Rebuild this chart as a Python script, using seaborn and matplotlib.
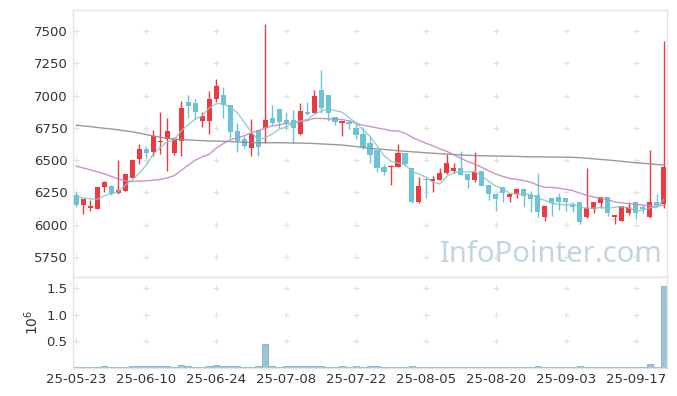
import numpy as np
import pandas as pd
import matplotlib
matplotlib.use("Agg")
import matplotlib.pyplot as plt
import seaborn as sns

# ---------------- data ----------------
tick_labels = ["25-05-23", "25-06-10", "25-06-24", "25-07-08", "25-07-22",
               "25-08-05", "25-08-20", "25-09-03", "25-09-17"]
tick_index = [0, 10, 20, 30, 40, 50, 60, 70, 80]

open_ = [6227, 6150, 6132, 6124, 6291, 6302, 6245, 6260, 6364, 6510,
         6588, 6567, 6639, 6665, 6553, 6650, 6952, 6944, 6805, 6805,
         6971, 7004, 6927, 6725, 6661, 6596, 6733, 6751, 6829, 6896,
         6811, 6811, 6700, 6865, 6862, 7043, 7004, 6831, 6790, 6797,
         6751, 6700, 6635, 6578, 6449, 6444, 6449, 6553, 6436, 6178,
         6353, 6335, 6346, 6398, 6418, 6436, 6392, 6346, 6416, 6307,
         6235, 6294, 6212, 6235, 6274, 6230, 6230, 6062, 6204, 6212,
         6204, 6142, 6173, 6062, 6121, 6165, 6212, 6062, 6031, 6088,
         6173, 6128, 6062, 6173, 6157]
high = [6253, 6200, 6193, 6294, 6336, 6310, 6503, 6392, 6506, 6626,
        6606, 6735, 6871, 6825, 6679, 6960, 7004, 6975, 6873, 7035,
        7130, 7065, 6927, 6785, 6690, 6815, 6733, 7552, 6926, 6896,
        6870, 6885, 6940, 6950, 7045, 7200, 7004, 6831, 6805, 6810,
        6790, 6760, 6690, 6578, 6470, 6462, 6626, 6553, 6436, 6370,
        6372, 6379, 6440, 6550, 6475, 6570, 6392, 6560, 6416, 6307,
        6235, 6294, 6235, 6281, 6274, 6261, 6400, 6144, 6204, 6243,
        6204, 6178, 6173, 6438, 6173, 6212, 6212, 6075, 6144, 6178,
        6173, 6152, 6577, 6238, 7423]
low = [6137, 6085, 6106, 6124, 6253, 6233, 6235, 6258, 6359, 6472,
       6518, 6536, 6549, 6415, 6540, 6530, 6824, 6820, 6760, 6700,
       6950, 6825, 6670, 6560, 6595, 6530, 6530, 6630, 6775, 6750,
       6740, 6630, 6694, 6850, 6862, 6862, 6800, 6770, 6690, 6740,
       6660, 6590, 6480, 6410, 6384, 6305, 6444, 6454, 6165, 6165,
       6204, 6250, 6346, 6392, 6397, 6384, 6283, 6333, 6302, 6191,
       6109, 6173, 6173, 6204, 6140, 6100, 6060, 6031, 6070, 6114,
       6109, 6100, 6005, 6049, 6088, 6126, 6067, 6005, 6031, 6075,
       6044, 6088, 6049, 6142, 6132]
close = [6150, 6196, 6142, 6294, 6333, 6240, 6266, 6389, 6503, 6588,
         6554, 6688, 6652, 6729, 6660, 6906, 6921, 6875, 6842, 6973,
         7076, 6927, 6720, 6648, 6609, 6702, 6599, 6811, 6790, 6797,
         6785, 6751, 6880, 6860, 6997, 6901, 6862, 6797, 6803, 6783,
         6694, 6604, 6540, 6436, 6410, 6457, 6553, 6470, 6178, 6299,
         6343, 6356, 6401, 6479, 6436, 6384, 6346, 6410, 6302, 6235,
         6199, 6243, 6235, 6276, 6224, 6199, 6100, 6144, 6165, 6178,
         6178, 6137, 6023, 6126, 6173, 6212, 6093, 6075, 6144, 6134,
         6088, 6124, 6173, 6152, 6444]
volume = [3000, 3000, 3000, 3000, 25000, 3000, 3000, 3000, 25000, 25000,
          25000, 25000, 25000, 35000, 3000, 40000, 25000, 3000, 3000, 25000,
          40000, 25000, 25000, 25000, 3000, 3000, 25000, 443000, 25000, 3000,
          25000, 25000, 25000, 25000, 25000, 25000, 3000, 3000, 25000, 3000,
          25000, 3000, 25000, 25000, 3000, 3000, 3000, 3000, 25000, 3000,
          3000, 3000, 3000, 3000, 3000, 3000, 3000, 3000, 3000, 3000,
          3000, 3000, 3000, 3000, 3000, 3000, 25000, 3000, 3000, 3000,
          3000, 3000, 25000, 3000, 3000, 3000, 3000, 3000, 3000, 3000,
          3000, 3000, 63000, 3000, 1545000]
# moving-average values before enough in-window history exists
ma5_head = [6219, 6208, 6200, 6198]
ma20_head = [6454, 6440, 6425, 6410, 6395, 6375, 6355, 6340, 6335, 6337,
             6340, 6345, 6350, 6362, 6380, 6420, 6460, 6500, 6525]
# long moving average (grey)
ma_long = [6771, 6765, 6760, 6753, 6747, 6742, 6735, 6727, 6720, 6710,
           6698, 6688, 6678, 6670, 6664, 6660, 6657, 6654, 6651, 6649,
           6648, 6646, 6644, 6641, 6639, 6637, 6635, 6635, 6635, 6635,
           6634, 6633, 6632, 6631, 6629, 6626, 6623, 6620, 6617, 6611,
           6605, 6598, 6591, 6587, 6583, 6578, 6573, 6569, 6565, 6561,
           6557, 6554, 6550, 6547, 6544, 6540, 6538, 6536, 6534, 6533,
           6532, 6531, 6530, 6529, 6527, 6526, 6526, 6525, 6524, 6523,
           6523, 6522, 6519, 6515, 6510, 6505, 6501, 6496, 6491, 6485,
           6480, 6476, 6471, 6466, 6462]

# ---------------- derived ----------------
n = len(close)
df = pd.DataFrame({"i": np.arange(n), "open": open_, "high": high,
                   "low": low, "close": close, "volume": volume,
                   "ma_long": ma_long})
ma5 = df["close"].rolling(5).mean()
ma5.iloc[:len(ma5_head)] = ma5_head
ma20 = df["close"].rolling(20).mean()
ma20.iloc[:len(ma20_head)] = ma20_head
df["ma5"] = ma5
df["ma20"] = ma20
df["up"] = df["close"] >= df["open"]

RED = "#ec3a40"
BLUE = "#6cc2d8"

sns.set_theme(style="white")
plt.rcParams["font.family"] = ["DejaVu Sans"]

W, H = 677, 396
fig = plt.figure(figsize=(W / 100, H / 100), dpi=100)
fig.patch.set_facecolor("white")

L, R = 73, 667
ax = fig.add_axes([L / W, (H - 277) / H, (R - L) / W, (277 - 10) / H])
axv = fig.add_axes([L / W, (H - 367.5) / H, (R - L) / W, (367.5 - 277) / H])

xlim = (-0.45, 84.45)

# grid "+" marks
yt = [5750, 6000, 6250, 6500, 6750, 7000, 7250, 7500]
gx, gy = np.meshgrid(tick_index, yt)
ax.scatter(gx.ravel(), gy.ravel(), marker="+", s=22, color="#e2e2e2",
           linewidths=0.8, zorder=0)

# candles
colors = np.where(df["up"], RED, BLUE)
ax.vlines(df["i"], df["low"], df["high"], colors=colors, linewidth=1.0, zorder=2)
body_lo = np.minimum(df["open"], df["close"])
body_h = np.maximum(np.abs(df["close"] - df["open"]), 12)
ax.bar(df["i"], body_h, bottom=body_lo, width=0.72, color=colors,
       linewidth=0, zorder=3)

# moving averages
sns.lineplot(data=df, x="i", y="ma_long", ax=ax, color="#8e8e8e", lw=1.0,
             alpha=0.9, zorder=4)
sns.lineplot(data=df, x="i", y="ma20", ax=ax, color="#c688c3", lw=1.0,
             alpha=0.9, zorder=4)
sns.lineplot(data=df, x="i", y="ma5", ax=ax, color="#80c9be", lw=1.0,
             alpha=0.85, zorder=4)

ax.set_xlim(*xlim)
ax.set_ylim(5595, 7663)
ax.set_yticks(yt)
ax.set_yticklabels([str(v) for v in yt])
ax.set_xticks(tick_index)
ax.set_xticklabels([])
ax.set_xlabel("")
ax.set_ylabel("")
ax.tick_params(axis="both", length=0, labelsize=9.5, colors="#333333", pad=4)

ax.text(0.805, 0.085, "InfoPointer.com", transform=ax.transAxes,
        ha="center", va="center", fontsize=21, color="#c3d5df",
        family=["Noto Sans", "DejaVu Sans"], zorder=1)

# volume panel
vt = [0.5e6, 1.0e6, 1.5e6]
gx2, gy2 = np.meshgrid(tick_index, vt)
axv.scatter(gx2.ravel(), gy2.ravel(), marker="+", s=22, color="#e2e2e2",
            linewidths=0.8, zorder=0)
sns.barplot(data=df, x="i", y="volume", ax=axv, native_scale=True,
            width=0.8, color="#9cc5d4", edgecolor="#7fb0c3", linewidth=0.6,
            errorbar=None, saturation=1, zorder=2)
axv.set_xlim(*xlim)
axv.set_ylim(0, 1.71e6)
axv.set_yticks(vt)
axv.set_yticklabels(["0.5", "1.0", "1.5"])
axv.set_xticks(tick_index)
axv.set_xticklabels(tick_labels)
axv.set_xlabel("")
axv.set_ylabel(r"$10^6$", fontsize=10, color="#333333", labelpad=4)
axv.tick_params(axis="both", length=0, labelsize=9.5, colors="#333333", pad=4)

for a in (ax, axv):
    a.set_facecolor("white")
    for s in a.spines.values():
        s.set_color("#e4e4e4")
        s.set_linewidth(1.0)

fig.savefig("out.png", dpi=100, facecolor="white")
